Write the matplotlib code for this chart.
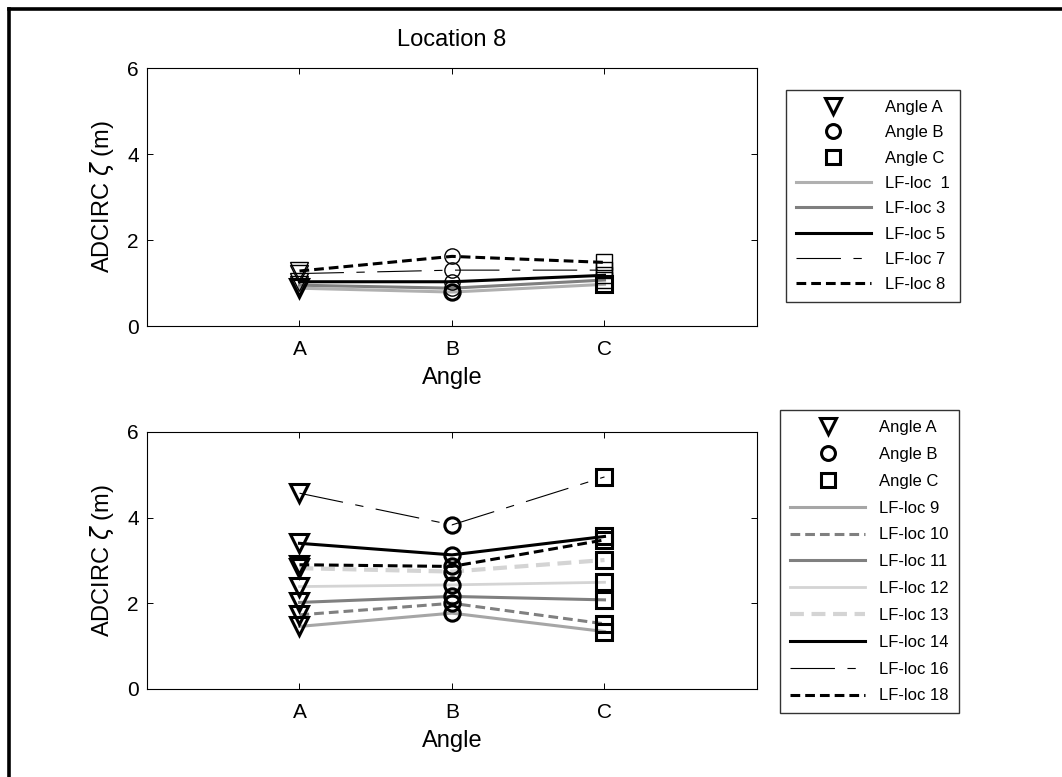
import matplotlib
matplotlib.use('Agg')
import matplotlib.pyplot as plt
from matplotlib.lines import Line2D

plt.rcParams['font.family'] = ['Liberation Sans', 'DejaVu Sans']
plt.rcParams['lines.scale_dashes'] = False

angles = ['A', 'B', 'C']
angle_x = [1, 2, 3]
angle_markers = ['v', 'o', 's']

# top panel: LF locations 1,3,5,7,8
top_labels = ['LF-loc  1', 'LF-loc 3', 'LF-loc 5', 'LF-loc 7', 'LF-loc 8']
top_values = [
    [0.88, 0.79, 0.97],
    [0.95, 0.88, 1.07],
    [1.03, 1.03, 1.18],
    [1.22, 1.30, 1.30],
    [1.28, 1.62, 1.48],
]

# bottom panel: LF locations 9..18
bot_labels = ['LF-loc 9', 'LF-loc 10', 'LF-loc 11', 'LF-loc 12',
              'LF-loc 13', 'LF-loc 14', 'LF-loc 16', 'LF-loc 18']
bot_values = [
    [1.46, 1.77, 1.34],
    [1.73, 2.00, 1.52],
    [2.02, 2.16, 2.08],
    [2.39, 2.43, 2.49],
    [2.82, 2.74, 3.01],
    [3.40, 3.13, 3.56],
    [4.57, 3.83, 4.95],
    [2.90, 2.86, 3.48],
]

dashdot = (0, (32, 9, 6, 9))
thick_dash = (0, (7, 3.6))
top_styles = [
    dict(color='#b0b0b0', lw=2.2, ls='-'),
    dict(color='#7f7f7f', lw=2.2, ls='-'),
    dict(color='black', lw=2.2, ls='-'),
    dict(color='black', lw=0.8, ls=dashdot),
    dict(color='black', lw=2.2, ls=thick_dash),
]
bot_styles = [
    dict(color='#a6a6a6', lw=2.2, ls='-'),
    dict(color='#808080', lw=2.2, ls=(0, (7, 3.6))),
    dict(color='#808080', lw=2.2, ls='-'),
    dict(color='#d4d4d4', lw=2.0, ls='-'),
    dict(color='#d4d4d4', lw=3.0, ls=(0, (10, 5.5))),
    dict(color='black', lw=2.2, ls='-'),
    dict(color='black', lw=0.8, ls=dashdot),
    dict(color='black', lw=2.2, ls=thick_dash),
]

fig = plt.figure(figsize=(10.62, 7.77), dpi=100)

# outer frame (top and left edges)
fig.add_artist(Line2D([0.0085, 0.0085], [0, 0.989], color='black', lw=2.6,
                      transform=fig.transFigure, solid_capstyle='projecting'))
fig.add_artist(Line2D([0.0085, 1.0], [0.989, 0.989], color='black', lw=2.6,
                      transform=fig.transFigure, solid_capstyle='projecting'))

ax1 = fig.add_axes([0.1384, 0.5804, 0.5744, 0.332])
ax2 = fig.add_axes([0.1384, 0.1133, 0.5744, 0.3308])


def draw_panel(ax, values, styles, labels, thin_markers):
    for i, (vals, st) in enumerate(zip(values, styles)):
        ax.plot(angle_x, vals, color=st['color'], lw=st['lw'],
                linestyle=st['ls'], zorder=2)
    for i, vals in enumerate(values):
        mew = 1.0 if (thin_markers and i > 0) else 2.2
        for j, m in enumerate(angle_markers):
            ax.plot(angle_x[j], vals[j], marker=m, ms=13 if m == 'v' else 11,
                    mfc='none', mec='black', mew=mew, ls='none', zorder=3)
    ax.set_xlim(0, 4)
    ax.set_ylim(0, 6)
    ax.set_xticks(angle_x)
    ax.set_xticklabels(angles)
    ax.set_yticks([0, 2, 4, 6])
    ax.tick_params(direction='in', length=4, width=0.7, top=True, right=True,
                   labelsize=15)
    ax.tick_params(axis='x', pad=10)
    ax.tick_params(axis='y', pad=6)
    for sp in ax.spines.values():
        sp.set_linewidth(0.8)
    ax.set_xlabel('Angle', fontsize=17, labelpad=6)
    ax.set_ylabel(r'ADCIRC $\zeta$ (m)', fontsize=17, labelpad=8)

    handles = []
    for k, m in enumerate(angle_markers):
        handles.append(Line2D([], [], marker=m, ms=12 if m == 'v' else 10,
                              mfc='none', mec='black', mew=2.2, ls='none',
                              label='Angle ' + angles[k]))
    for st, lab in zip(styles, labels):
        handles.append(Line2D([], [], color=st['color'], lw=st['lw'],
                              linestyle=st['ls'], label=lab))
    return handles


h1 = draw_panel(ax1, top_values, top_styles, top_labels, True)
h2 = draw_panel(ax2, bot_values, bot_styles, bot_labels, False)

leg1 = fig.legend(handles=h1, loc='upper left', bbox_to_anchor=(0.7398, 0.8842),
                  fontsize=12, frameon=True, fancybox=False, borderaxespad=0,
                  borderpad=0.6, labelspacing=0.62, handlelength=4.5,
                  handletextpad=0.85, numpoints=1)
leg2 = fig.legend(handles=h2, loc='upper left', bbox_to_anchor=(0.7345, 0.4723),
                  fontsize=12, frameon=True, fancybox=False, borderaxespad=0,
                  borderpad=0.6, labelspacing=0.71, handlelength=4.5,
                  handletextpad=0.85, numpoints=1)
for leg in (leg1, leg2):
    leg.get_frame().set_edgecolor('black')
    leg.get_frame().set_linewidth(1.0)

fig.text(0.4256, 1 - 40 / 777, 'Location 8', ha='center', va='center',
         fontsize=17)

fig.savefig('out.png', dpi=100)
